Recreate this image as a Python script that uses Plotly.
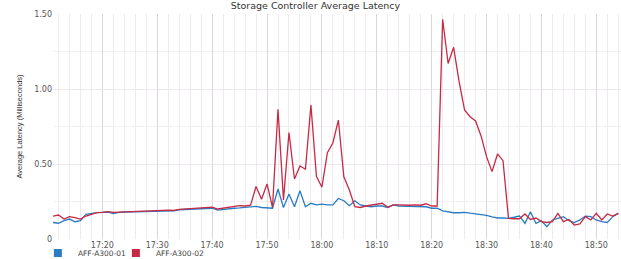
import plotly.graph_objects as go
import pandas as pd

times = pd.date_range("2024-01-01 17:11", "2024-01-01 18:54", freq="1min").strftime("%Y-%m-%d %H:%M").tolist()

series_names = ["AFF-A300-01", "AFF-A300-02"]

aff01 = [0.11, 0.105, 0.122, 0.133, 0.115, 0.122, 0.164, 0.171, 0.176, 0.178,
         0.18, 0.17, 0.178, 0.18, 0.181, 0.183, 0.185, 0.186, 0.187, 0.189,
         0.19, 0.191, 0.187, 0.195, 0.197, 0.2, 0.202, 0.205, 0.208, 0.205,
         0.192, 0.198, 0.2, 0.205, 0.207, 0.21, 0.213, 0.218, 0.21, 0.205,
         0.205, 0.333, 0.21, 0.3, 0.215, 0.322, 0.215, 0.238, 0.227, 0.233,
         0.227, 0.227, 0.27, 0.255, 0.222, 0.255, 0.227, 0.22, 0.215, 0.22,
         0.22, 0.21, 0.227, 0.22, 0.22, 0.215, 0.215, 0.215, 0.215, 0.205,
         0.205, 0.187, 0.18, 0.175, 0.175, 0.178, 0.172, 0.167, 0.162, 0.158,
         0.147, 0.14, 0.14, 0.138, 0.145, 0.153, 0.104, 0.182, 0.104, 0.122,
         0.082, 0.127, 0.138, 0.149, 0.122, 0.11, 0.127, 0.153, 0.149, 0.127,
         0.116, 0.11, 0.149, 0.171]

aff02 = [0.153, 0.16, 0.133, 0.149, 0.142, 0.133, 0.153, 0.167, 0.176, 0.178,
         0.182, 0.178, 0.18, 0.182, 0.183, 0.185, 0.186, 0.187, 0.188, 0.19,
         0.191, 0.192, 0.19, 0.197, 0.199, 0.202, 0.205, 0.208, 0.21, 0.212,
         0.2, 0.205, 0.212, 0.218, 0.222, 0.22, 0.225, 0.35, 0.265, 0.367,
         0.21, 0.865, 0.26, 0.71, 0.4, 0.487, 0.465, 0.893, 0.418, 0.345,
         0.575, 0.64, 0.793, 0.415, 0.327, 0.215, 0.21, 0.22, 0.227, 0.236,
         0.238, 0.212, 0.227, 0.227, 0.225, 0.225, 0.227, 0.225, 0.235, 0.22,
         0.22, 1.465, 1.17, 1.278, 1.049, 0.86, 0.815, 0.787, 0.687, 0.549,
         0.449, 0.567, 0.522, 0.138, 0.135, 0.135, 0.167, 0.13, 0.14, 0.116,
         0.11, 0.116, 0.171, 0.116, 0.13, 0.093, 0.1, 0.149, 0.127, 0.171,
         0.127, 0.167, 0.153, 0.171]

colors = ["#2b7cc2", "#c72a45"]
legend_ids = ["legend", "legend2"]

fig = go.Figure()
for name, vals, c, lg in zip(series_names, [aff01, aff02], colors, legend_ids):
    fig.add_trace(go.Scatter(x=times, y=vals, mode="lines", name=name,
                             line=dict(color=c, width=1.3), showlegend=False))
    fig.add_trace(go.Scatter(x=[None], y=[None], mode="markers", name=name, legend=lg,
                             marker=dict(symbol="square", size=8, color=c)))

tickfont = dict(family="DejaVu Sans", size=8, color="#555555")
legfont = dict(family="DejaVu Sans", size=7.5, color="#444444")

fig.update_layout(
    width=621, height=259,
    margin=dict(l=53, r=0, t=14, b=20, autoexpand=False),
    paper_bgcolor="white", plot_bgcolor="white",
    title=dict(text="Storage Controller Average Latency", x=0.508, xanchor="center",
               y=0.977, yanchor="middle",
               font=dict(family="DejaVu Sans", size=9.5, color="#333333")),
    showlegend=True,
    legend=dict(orientation="h", x=0.061, xanchor="left", xref="container",
                y=0.023, yanchor="middle", yref="container",
                font=legfont, itemwidth=30, bgcolor="rgba(0,0,0,0)"),
    legend2=dict(orientation="h", x=0.061 + 78 / 621, xanchor="left", xref="container",
                 y=0.023, yanchor="middle", yref="container",
                 font=legfont, itemwidth=30, bgcolor="rgba(0,0,0,0)"),
    xaxis=dict(
        type="date",
        range=["2024-01-01 17:11", "2024-01-01 18:54:30"],
        tick0="2024-01-01 17:20", dtick=600000, tickformat="%H:%M",
        tickfont=tickfont, ticks="", showline=False,
        showgrid=True, gridcolor="#dcd6e0", gridwidth=1,
        minor=dict(dtick=120000, tick0="2024-01-01 17:20", showgrid=True,
                   gridcolor="#eeeaf0", gridwidth=1),
        zeroline=False,
    ),
    yaxis=dict(
        range=[0, 1.5], tickvals=[0, 0.5, 1.0, 1.5], ticktext=["0", "0.50", "1.00", "1.50"],
        tickfont=tickfont, ticks="", showline=False,
        showgrid=True, gridcolor="#ece8ee", gridwidth=1,
        minor=dict(dtick=0.25, showgrid=True, gridcolor="#f1eef3"),
        zeroline=False,
        title=dict(text="Average Latency (Milliseconds)", standoff=10,
                   font=dict(family="Liberation Sans Narrow, Liberation Sans", size=7.5, color="#333333")),
    ),
)

fig.write_html("out.html")
